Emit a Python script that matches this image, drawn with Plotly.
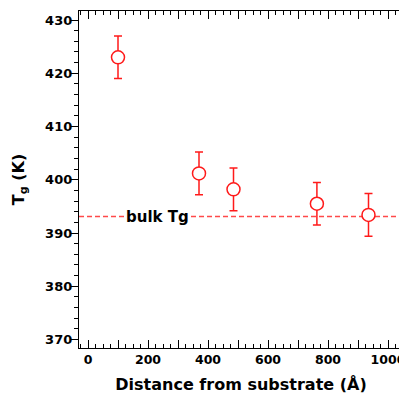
import plotly.graph_objects as go

# Data
distance = [100, 370, 485, 763, 935]          # Å
tg = [423.0, 401.2, 398.2, 395.5, 393.4]      # K
tg_err = [4.0, 4.0, 4.0, 4.0, 4.0]
bulk_tg = 393.1
bulk_label = "bulk Tg"
bulk_label_x = 233

x_major = [0, 100, 200, 300, 400, 500, 600, 700, 800, 900, 1000]
x_labels = ["0", "", "200", "", "400", "", "600", "", "800", "", "1000"]
y_ticks = [370, 380, 390, 400, 410, 420, 430]

RED = "#ff1a1a"
FONT = "DejaVu Sans"

fig = go.Figure()
fig.add_trace(go.Scatter(
    x=distance, y=tg, mode="markers",
    marker=dict(symbol="circle", size=13, color="white",
                line=dict(color=RED, width=1.5)),
    error_y=dict(type="data", array=tg_err, visible=True,
                 color=RED, thickness=1.5, width=4),
    showlegend=False, cliponaxis=False,
))

fig.add_shape(type="line", xref="paper", x0=0, x1=1, yref="y",
              y0=bulk_tg, y1=bulk_tg,
              line=dict(color="#ff4a4a", width=1.5, dash="5px,3px"),
              layer="below")

fig.add_annotation(x=bulk_label_x, y=bulk_tg, text="<b>" + bulk_label + "</b>",
                   showarrow=False, bgcolor="white",
                   font=dict(family=FONT, size=15, color="black"),
                   borderpad=1)

fig.update_xaxes(
    range=[-30, 1050],
    tickmode="array", tickvals=x_major, ticktext=x_labels,
    ticks="inside", ticklen=8, tickwidth=1.2, tickcolor="black",
    minor=dict(dtick=25, ticks="inside", ticklen=4, tickwidth=1, tickcolor="black"),
    showline=True, linecolor="black", linewidth=1.3, mirror="allticks",
    showgrid=False, zeroline=False,
    tickfont=dict(family=FONT, size=12.5, color="black", weight="bold"),
    title=dict(text="<b>Distance from substrate (Å)</b>",
               font=dict(family=FONT, size=16, color="black"), standoff=12),
)
fig.update_yaxes(
    range=[368.4, 431.7],
    tickmode="array", tickvals=y_ticks,
    ticks="outside", ticklen=7, tickwidth=1.2, tickcolor="black",
    minor=dict(dtick=2, ticks="outside", ticklen=3.5, tickwidth=1, tickcolor="black"),
    showline=True, linecolor="black", linewidth=1.3, mirror="allticks",
    showgrid=False, zeroline=False,
    ticklabelstandoff=-4,
    tickfont=dict(family=FONT, size=13, color="black", weight="bold"),
    title=dict(text="<b>T<sub>g</sub> (K)</b>",
               font=dict(family=FONT, size=16, color="black"), standoff=16),
)

# page body has an 8px margin; compensate so the plot area lands where the reference has it
fig.update_layout(
    width=399, height=390,
    margin=dict(l=71, r=4, t=3, b=50, autoexpand=False),
    plot_bgcolor="white", paper_bgcolor="white",
    font=dict(family=FONT, color="black"),
)

fig.write_html("out.html")
